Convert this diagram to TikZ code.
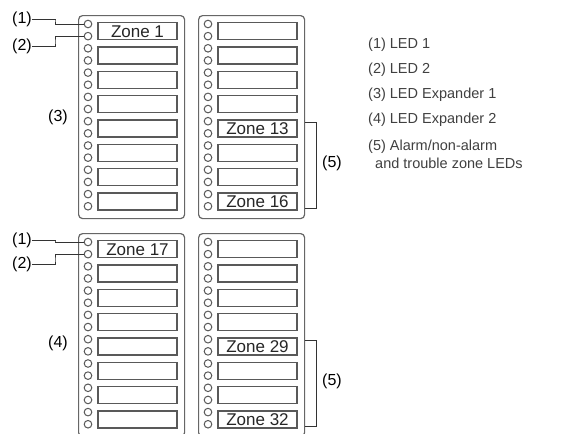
\documentclass[tikz,border=0pt]{standalone}
\usepackage{fontspec}
\setmainfont{Liberation Sans}
\usetikzlibrary{calc}
\begin{document}
\begin{tikzpicture}[x=1pt,y=-1pt,
  panel/.style={draw=black!60, line width=1.2pt, rounded corners=4pt, inner sep=0pt,
                minimum width=106pt, minimum height=203pt, anchor=north west},
  zbox/.style={draw=black!65, line width=1.3pt, minimum width=79pt, minimum height=17pt, inner sep=0pt},
  ztext/.style={inner sep=0pt, font=\fontsize{17}{17}\selectfont, text=black!85},
  led/.style={circle, draw=black!65, line width=1pt, minimum size=7.6pt, inner sep=0pt},
  lbl/.style={inner sep=0pt, font=\fontsize{16}{16}\selectfont, text=black},
  legend/.style={anchor=west, inner sep=0pt, font=\fontsize{14.5}{14.5}\selectfont, text=black!75},
  wire/.style={draw=black!80, line width=0.8pt}]
\clip (0,0) rectangle (574,434);
\fill[white] (0,0) rectangle (574,434);

% panels, boxes and LEDs
\foreach \p/\x/\y in {tl/78/15, tr/198/15, bl/78/233, br/198/233}{
  \node[panel] (p\p) at (\x,\y) {};
  \foreach \i in {1,...,8}{
    \node[zbox] (\p-b\i) at ({\x+59.5},{\y+16.25+(\i-1)*24.3}) {};
  }
  \foreach \j in {1,...,16}{
    \node[led] (\p-l\j) at ({\x+10},{\y+9+(\j-1)*12.15}) {};
  }
}

% zone texts
\node[ztext] (z1)  at (tl-b1) {Zone 1};
\node[ztext] (z13) at (tr-b5) {Zone 13};
\node[ztext] (z16) at (tr-b8) {Zone 16};
\node[ztext] (z17) at (bl-b1) {Zone 17};
\node[ztext] (z29) at (br-b5) {Zone 29};
\node[ztext] (z32) at (br-b8) {Zone 32};

% callout labels
\node[lbl] (t1) at (22,19) {(1)};
\node[lbl] (t2) at (22,46) {(2)};
\node[lbl] (t3) at (58,117) {(3)};
\node[lbl] (b1) at (22,240) {(1)};
\node[lbl] (b2) at (22,264) {(2)};
\node[lbl] (b4) at (58,343) {(4)};
\node[lbl] (t5) at (332,163) {(5)};
\node[lbl] (b5) at (332,381) {(5)};

\coordinate (tk1) at (55,20);
\coordinate (tk2) at (55,42);
\coordinate (bk1) at (55,241);
\coordinate (bk2) at (55,260);
\draw[wire] (t1.east) -| (tk1) |- (tl-l1.west);
\draw[wire] (t2.east) -| (tk2) |- (tl-l2.west);
\draw[wire] (b1.east) -| (bk1) |- (bl-l1.west);
\draw[wire] (b2.east) -| (bk2) |- (bl-l2.west);

% brackets
\draw[wire] ($(ptr.east |- tr-b5.north)+(0,3)$) -| ($(ptr.east |- tr-b8.south)+(11,-2)$) -- ($(ptr.east |- tr-b8.south)+(0,-2)$);
\draw[wire] ($(pbr.east |- br-b5.north)+(0,3)$) -| ($(pbr.east |- br-b8.south)+(11,-2)$) -- ($(pbr.east |- br-b8.south)+(0,-2)$);

% legend
\node[legend] (g1) at (368,45) {(1) LED 1};
\node[legend] (g2) at (368,70) {(2) LED 2};
\node[legend] (g3) at (368,95) {(3) LED Expander 1};
\node[legend] (g4) at (368,120) {(4) LED Expander 2};
\node[legend] (g5) at (368,147) {(5) Alarm/non-alarm};
\node[legend] (g6) at (375,163) {and trouble zone LEDs};
\end{tikzpicture}
\end{document}
